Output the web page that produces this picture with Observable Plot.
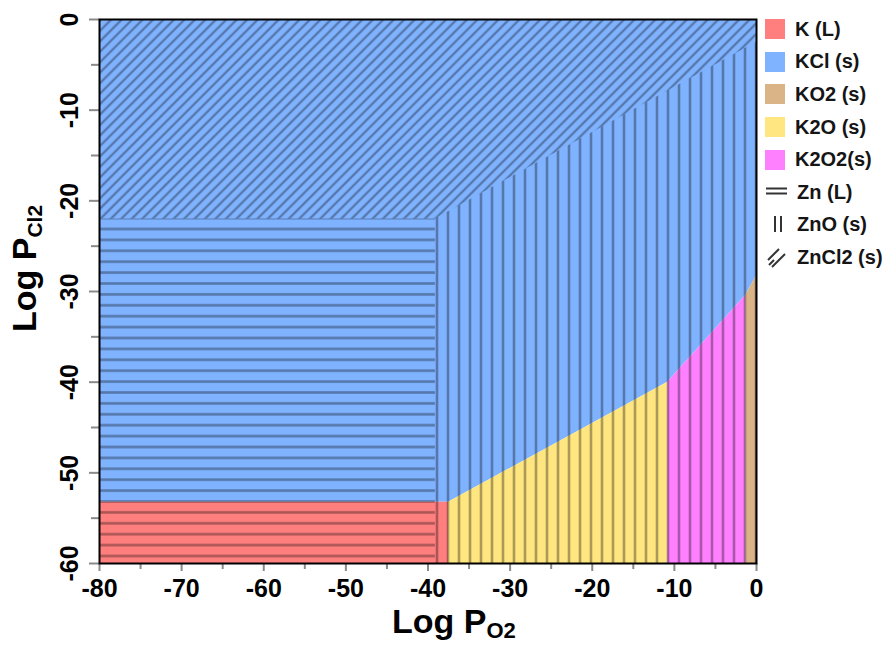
<!DOCTYPE html>
<html>
<head>
<meta charset="utf-8">
<script src="https://cdn.jsdelivr.net/npm/d3@7"></script>
<script src="https://cdn.jsdelivr.net/npm/@observablehq/plot@0.6"></script>
<style>
  html, body { margin: 0; padding: 0; background: #fff; }
  #wrap { position: relative; width: 888px; height: 645px; overflow: hidden; font-family: "Liberation Sans", Arial, sans-serif; }
  #legend { position: absolute; left: 765px; top: 13px; }
  .item { height: 32.6px; display: flex; align-items: center; font-size: 20px; font-weight: bold; color: #151515; white-space: nowrap; }
  .sw { width: 20px; height: 20px; margin-right: 10px; flex: none; }
  .sym { width: 24px; height: 24px; margin-right: 8px; flex: none; }
</style>
</head>
<body>
<svg width="0" height="0" style="position:absolute">
  <defs>
    <pattern id="hatch-h" patternUnits="userSpaceOnUse" x="0" y="-5.35" width="11" height="10.9">
      <line x1="0" x2="11" y1="5.45" y2="5.45" stroke="#000" stroke-opacity="0.33" stroke-width="2.6"/>
    </pattern>
    <pattern id="hatch-v" patternUnits="userSpaceOnUse" x="0" y="0" width="11" height="11">
      <line x1="8" x2="8" y1="0" y2="11" stroke="#000" stroke-opacity="0.33" stroke-width="2.6"/>
    </pattern>
    <pattern id="hatch-d" patternUnits="userSpaceOnUse" width="7.4" height="7.4" patternTransform="rotate(45)">
      <line x1="3.7" x2="3.7" y1="0" y2="7.4" stroke="#000" stroke-opacity="0.33" stroke-width="2.3"/>
    </pattern>
  </defs>
</svg>
<div id="wrap"><div id="legend"></div></div>
<script>
// Axes: log PO2 (x) and log PCl2 (y)
const xDomain = [-80, 0];
const yDomain = [-60, 0];
const xMajorTicks = [-80, -70, -60, -50, -40, -30, -20, -10, 0];
const xMinorTicks = [-75, -65, -55, -45, -35, -25, -15, -5];
const yMajorTicks = [0, -10, -20, -30, -40, -50, -60];
const yMinorTicks = [-5, -15, -25, -35, -45, -55];

// Potassium species: legend order and fill colours
const kPhases = ["K (L)", "KCl (s)", "KO2 (s)", "K2O (s)", "K2O2(s)"];
const kColors = ["#ff7f7f", "#7fb2ff", "#dab386", "#ffe680", "#ff80ff"];

// Lower edge of the KCl field (vertices, left to right)
const kBoundaryX = [-80, -37.5, -10.8, -1.3, 0];
const kBoundaryY = [-53.25, -53.25, -40.0, -30.4, -28.3];
// Fields under that edge, one per boundary segment
const kLowerFields = ["K (L)", "K2O (s)", "K2O2(s)", "KO2 (s)"];

// Zinc species: legend order and hatch patterns
const znPhases = ["Zn (L)", "ZnO (s)", "ZnCl2 (s)"];
const znHatches = ["hatch-h", "hatch-v", "hatch-d"];

// Lower edge of the ZnCl2 field
const znBoundaryX = [-80, -39.1, 0];
const znBoundaryY = [-22, -22, -2.5];
const znLowerFields = ["Zn (L)", "ZnO (s)"];

const [yMin, yMax] = yDomain;

function lowerRows(fields, bx, by) {
  return fields.flatMap((phase, i) => [
    {phase, x: bx[i], y1: yMin, y2: by[i]},
    {phase, x: bx[i + 1], y1: yMin, y2: by[i + 1]}
  ]);
}
function upperRows(phase, bx, by) {
  return bx.map((x, i) => ({phase, x, y1: by[i], y2: yMax}));
}

const kRows = [
  ...upperRows("KCl (s)", kBoundaryX, kBoundaryY),
  ...lowerRows(kLowerFields, kBoundaryX, kBoundaryY)
];
const znRows = [
  ...upperRows("ZnCl2 (s)", znBoundaryX, znBoundaryY),
  ...lowerRows(znLowerFields, znBoundaryX, znBoundaryY)
];

const font = "'Liberation Sans', Arial, sans-serif";
const tickColor = "#8a8a8a";

const chart = Plot.plot({
  width: 888,
  height: 645,
  marginLeft: 99,
  marginRight: 132,
  marginTop: 19,
  marginBottom: 82,
  x: {domain: xDomain},
  y: {domain: yDomain},
  color: {domain: kPhases, range: kColors},
  style: {fontFamily: font, background: "transparent", overflow: "visible"},
  marks: [
    // potassium predominance fields
    Plot.areaY(kRows, {x: "x", y1: "y1", y2: "y2", z: "phase", fill: "phase", curve: "linear"}),
    // zinc predominance fields as hatching
    ...znPhases.map((p, i) =>
      Plot.areaY(znRows.filter(d => d.phase === p),
        {x: "x", y1: "y1", y2: "y2", fill: `url(#${znHatches[i]})`, curve: "linear"})
    ),
    // tick marks
    Plot.axisX({ticks: xMajorTicks, tickSize: 8, stroke: tickColor, strokeWidth: 2, fill: "none", label: null}),
    Plot.axisX({ticks: xMinorTicks, tickSize: 6, stroke: tickColor, strokeWidth: 2, fill: "none", label: null}),
    Plot.axisY({ticks: yMajorTicks, tickSize: 10, stroke: tickColor, strokeWidth: 2, fill: "none", label: null}),
    Plot.axisY({ticks: yMinorTicks, tickSize: 8, stroke: tickColor, strokeWidth: 2, fill: "none", label: null}),
    // tick labels
    Plot.text(xMajorTicks, {x: d => d, frameAnchor: "bottom", dy: 16, lineAnchor: "top",
      text: d => String(d), fontSize: 25, fontWeight: "bold", fill: "black"}),
    Plot.text(yMajorTicks, {y: d => d, frameAnchor: "left", dx: -22, rotate: -90,
      textAnchor: "middle", lineAnchor: "bottom",
      text: d => String(d), fontSize: 25, fontWeight: "bold", fill: "black"}),
    Plot.frame({stroke: "black", strokeWidth: 2})
  ]
});

// axis titles with subscripts
const svg = d3.select(chart);
const xt = svg.append("text")
  .attr("x", 392).attr("y", 633).attr("text-anchor", "start")
  .attr("font-family", font).attr("font-weight", "bold").attr("font-size", 34).attr("fill", "black");
xt.append("tspan").text("Log P");
xt.append("tspan").attr("font-size", 22).attr("dy", 5).text("O2");

const yt = svg.append("text")
  .attr("transform", "translate(36,332) rotate(-90)").attr("text-anchor", "start")
  .attr("font-family", font).attr("font-weight", "bold").attr("font-size", 34).attr("fill", "black");
yt.append("tspan").text("Log P");
yt.append("tspan").attr("font-size", 21).attr("dy", 6).text("Cl2");

document.getElementById("wrap").prepend(chart);

// legend
const legend = d3.select("#legend");
kPhases.forEach((p, i) => {
  const row = legend.append("div").attr("class", "item");
  row.append("span").attr("class", "sw").style("background", kColors[i]);
  row.append("span").text(p);
});
const symbols = [
  s => { s.append("line").attr("x1", 1).attr("x2", 22).attr("y1", 8.5).attr("y2", 8.5);
         s.append("line").attr("x1", 1).attr("x2", 22).attr("y1", 13.5).attr("y2", 13.5); },
  s => { s.append("line").attr("x1", 10).attr("x2", 10).attr("y1", 3).attr("y2", 19);
         s.append("line").attr("x1", 16).attr("x2", 16).attr("y1", 3).attr("y2", 19); },
  s => { s.append("line").attr("x1", 3).attr("x2", 14).attr("y1", 15).attr("y2", 4);
         s.append("line").attr("x1", 7).attr("x2", 20).attr("y1", 22).attr("y2", 9);
         s.append("line").attr("x1", 4).attr("x2", 9).attr("y1", 20).attr("y2", 15); }
];
znPhases.forEach((p, i) => {
  const row = legend.append("div").attr("class", "item");
  const s = row.append("svg").attr("class", "sym").attr("viewBox", "0 0 24 24")
    .attr("stroke", "#333").attr("stroke-width", 2);
  symbols[i](s);
  row.append("span").text(p);
});
</script>
</body>
</html>
